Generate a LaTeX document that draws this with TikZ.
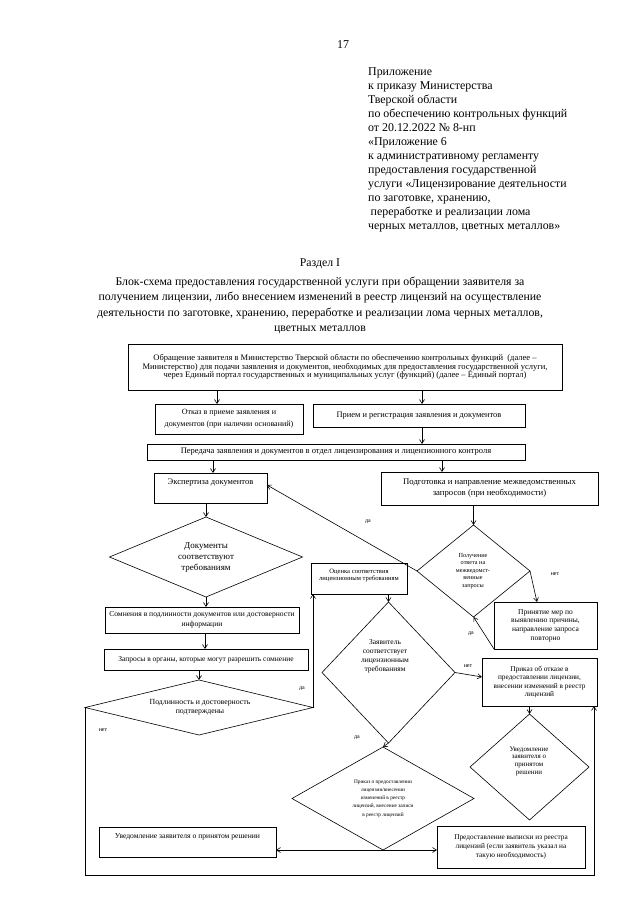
\documentclass[tikz,border=0pt]{standalone}
\usepackage{fontspec}
\setmainfont{Liberation Serif}
\usetikzlibrary{shapes.geometric,arrows.meta,shadows,calc}
\newcommand\myfs[2]{\fontsize{#1}{#2}\selectfont}
\begin{document}
\begin{tikzpicture}[x=1pt,y=-1pt,
  box/.style={draw,line width=0.6pt,fill=white,rectangle,inner sep=1pt,outer sep=0pt,align=center,
     drop shadow={shadow xshift=0.8pt,shadow yshift=-0.8pt,fill=black,opacity=1}},
  dia/.style={draw,line width=0.6pt,shape=diamond,inner sep=0pt,outer sep=0pt},
  txt/.style={inner sep=0pt,align=center},
  arr/.style={line width=0.6pt,-{Straight Barb[length=4pt,width=5pt]}},
  lbl/.style={inner sep=0pt,font=\myfs{6}{7}},
]
\path[use as bounding box,fill=white] (0,0) rectangle (640,905);

% header
\node[inner sep=0pt,font=\myfs{12}{14}] (pg) at (343,45) {17};
\node[anchor=north west,inner sep=0pt,align=left,font=\myfs{11.9}{14}] (hdr) at (368,67.5) {%
Приложение\\
к приказу Министерства\\
Тверской области\\
по обеспечению контрольных функций\\
от 20.12.2022 № 8-нп\\
«Приложение 6\\
к административному регламенту\\
предоставления государственной\\
услуги «Лицензирование деятельности\\
по заготовке, хранению,\\
\hspace*{2.5pt}переработке и реализации лома\\
черных металлов, цветных металлов»};

\node[inner sep=0pt,font=\myfs{11.8}{15}] (sec) at (320,264) {Раздел I};
\node[inner sep=0pt,align=center,font=\myfs{11.8}{15.4}] (ttl) at (320,305.5) {%
Блок-схема предоставления государственной услуги при обращении заявителя за\\
получением лицензии, либо внесением изменений в реестр лицензий на осуществление\\
деятельности по заготовке, хранению, переработке и реализации лома черных металлов,\\
цветных металлов};

% boxes
\node[box,minimum width=434,minimum height=46,font=\myfs{8.5}{8.7}] (b1) at (345,367) {%
Обращение заявителя в Министерство Тверской области по обеспечению контрольных функций~~(далее –\\
Министерство) для подачи заявления и документов, необходимых для предоставления государственной услуги,\\
через Единый портал государственных и муниципальных услуг (функций) (далее – Единый портал)};
\node[box,minimum width=148,minimum height=30,font=\myfs{8}{12}] (b2) at (229,419) {Отказ в приеме заявления и\\документов (при наличии оснований)};
\node[box,minimum width=212,minimum height=23,font=\myfs{8.4}{10}] (b3) at (419,415.5) {Прием и регистрация заявления и документов};
\node[box,minimum width=378,minimum height=16,font=\myfs{8.5}{10}] (b4) at (336,452) {Передача заявления и документов в отдел лицензирования и лицензионного контроля};
\node[box,minimum width=113,minimum height=30,font=\myfs{8.5}{10},text depth=12pt] (b5) at (210.5,488) {Экспертиза документов};
\node[box,minimum width=217,minimum height=33,font=\myfs{8.7}{11}] (b6) at (489.5,488.5) {Подготовка и направление межведомственных\\запросов (при необходимости)};
\node[box,minimum width=194,minimum height=26,font=\myfs{7.6}{10}] (b7) at (202,620) {Сомнения в подлинности документов или достоверности\\информации};
\node[box,minimum width=204,minimum height=21,font=\myfs{7.5}{9}] (b8) at (206,659.5) {Запросы в органы, которые могут разрешить сомнение};
\node[box,minimum width=96,minimum height=31,font=\myfs{6.6}{6.9},text depth=7pt] (b9) at (359,578.5) {Оценка соответствия\\лицензионным требованиям};
\node[box,minimum width=103,minimum height=47,font=\myfs{7.5}{8.6}] (b10) at (545.5,625.5) {Принятие мер по\\выявлению причины,\\направление запроса\\повторно};
\node[box,minimum width=115,minimum height=48,font=\myfs{7.3}{8.4}] (b11) at (539.5,682) {Приказ об отказе в\\предоставлении лицензии,\\внесении изменений в реестр\\лицензий};
\node[box,minimum width=148,minimum height=42,font=\myfs{7.3}{9}] (b12) at (511,847) {Предоставление выписки из реестра\\лицензий (если заявитель указал на\\такую необходимость)};
\node[box,minimum width=177,minimum height=30,font=\myfs{7.6}{9},text depth=12pt] (b13) at (187.5,842) {Уведомление заявителя о принятом решении};

% diamonds
\node[dia,minimum width=193,minimum height=80] (D1) at (206,557) {};
\node[txt,font=\myfs{9}{11}] (D1t) at (206,558) {Документы\\соответствуют\\требованиям};
\node[dia,minimum width=228,minimum height=55] (D2) at (199,707.5) {};
\node[txt,font=\myfs{7.8}{9}] (D2t) at (200,707.5) {Подлинность и достоверность\\подтверждены};
\node[dia,minimum width=133,minimum height=141] (D3) at (388.5,672.5) {};
\node[txt,font=\myfs{7.5}{9}] (D3t) at (385,656) {Заявитель\\соответствует\\лицензионным\\требованиям};
\node[dia,minimum width=113,minimum height=92] (DQ) at (473.5,571) {};
\node[txt,font=\myfs{6.2}{7.5}] (DQt) at (473,571) {Получение\\ответа на\\межведомст-\\венные\\запросы};
\node[dia,minimum width=119,minimum height=106] (DU) at (529.5,767) {};
\node[txt,font=\myfs{7}{7.7}] (DUt) at (529,761) {Уведомление\\заявителя о\\принятом\\решении};
\node[dia,minimum width=182,minimum height=103] (DP) at (383,798.5) {};
\node[txt,font=\myfs{5.3}{8.3}] (DPt) at (383,798.5) {Приказ о предоставлении\\лицензии/внесении\\изменений в реестр\\лицензий, внесение записи\\в реестр лицензий};

% helper coordinates
\coordinate (xa) at (217,0);
\coordinate (xb) at (422,0);
\coordinate (xc) at (213,0);
\coordinate (xd) at (442,0);
\coordinate (xe) at (205,0);
\coordinate (xf) at (537,0);
\coordinate (fb) at (0,875);
\coordinate (fr) at (594,0);

% connectors
\draw[arr] (b1.south -| xa) -- (b2.north -| xa);
\draw[arr] (b1.south -| xb) -- (b3.north -| xb);
\draw[arr] (b3.south -| xb) -- (b4.north -| xb);
\draw[arr] (b4.south -| xc) -- (b5.north -| xc);
\draw[arr] (b4.south -| xd) -- (b6.north -| xd);
\draw[arr] (b5.south -| D1.north) -- (D1.north);
\draw[arr] (D1.south) -- (b7.north -| D1.south);
\draw[arr] (b7.south -| xe) -- (b8.north -| xe);
\draw[arr] (b8.south -| D2.north) -- (D2.north);
\draw[arr] (D2.east) -- (D2.east |- b9.south);
\draw[arr] (b9.south -| D3.north) -- (D3.north);
\draw[arr] (D3.east) -- ($(b11.west)+(0,-5)$);
\draw[arr] (D3.south) -- (DP.north);
\draw[arr] (DP.south) -- (DP.south -| b13.east);
\draw[arr] (DP.south) -- (DP.south -| b12.west);
\draw[arr] (b11.south -| DU.north) -- (DU.north);
\draw[arr] (b6.south -| DQ.north) -- (DQ.north);
\draw[arr] (DQ.east) -- (b10.north -| xf);
\draw[arr] (b10.south west) -- (DQ.south);
\draw[arr] (DQ.west) -- ($(b5.east)+(0,-3)$);
\draw[arr] (D2.west) -- (D2.west |- fb) -- (fr |- fb) -- (fr |- b11.south);

% labels
\node[lbl] (l1) at (368,522) {да};
\node[lbl] (l2) at (555,574) {нет};
\node[lbl] (l3) at (471,634) {да};
\node[lbl] (l4) at (302,689) {да};
\node[lbl] (l5) at (468,666) {нет};
\node[lbl] (l6) at (357,738) {да};
\node[lbl] (l7) at (103,730) {нет};
\end{tikzpicture}
\end{document}
